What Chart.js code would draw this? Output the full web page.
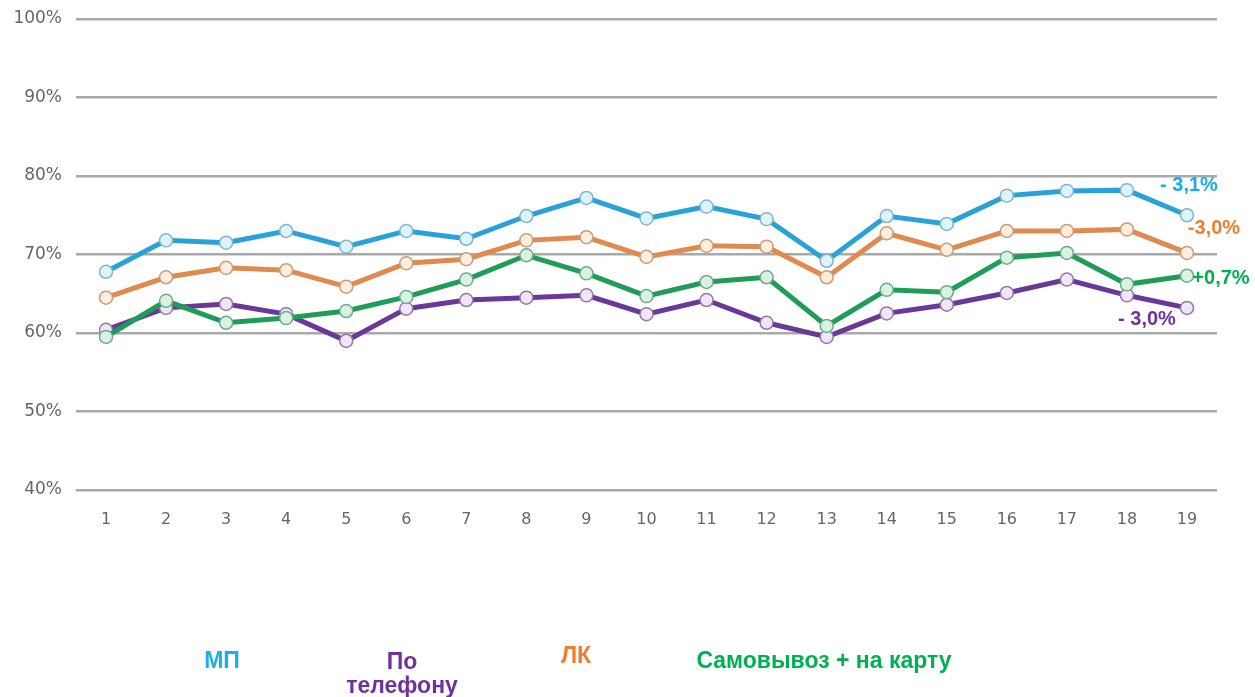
<!DOCTYPE html>
<html>
<head>
<meta charset="utf-8">
<script src="https://cdn.jsdelivr.net/npm/chart.js@4.4.1/dist/chart.umd.min.js"></script>
<style>
  html, body { margin: 0; padding: 0; background: #ffffff; }
  #wrap { position: relative; width: 1255px; height: 697px; overflow: hidden; }
  #wrap canvas { position: absolute; left: 0; top: 0; }
  .leg { position: absolute; font: bold 23px 'Liberation Sans', Arial, sans-serif; transform: translate(-50%, -50%); white-space: nowrap; text-align: center; line-height: 24px; }
</style>
</head>
<body>
<div id="wrap">
  <canvas id="chart" width="1255" height="697"></canvas>
  <div class="leg" style="left:222px; top:660px; color:#1cb0ea;">МП</div>
  <div class="leg" style="left:402px; top:673px; color:#7030a0;">По<br>телефону</div>
  <div class="leg" style="left:576px; top:655px; color:#ed7d31;">ЛК</div>
  <div class="leg" style="left:824px; top:660px; color:#00b050;">Самовывоз + на карту</div>
</div>
<script>
  const categories = ['1', '2', '3', '4', '5', '6', '7', '8', '9', '10', '11', '12', '13', '14', '15', '16', '17', '18', '19'];

  const mpValues = [67.8, 71.8, 71.5, 73.0, 71.0, 73.0, 72.0, 74.9, 77.2, 74.6, 76.1, 74.5, 69.2, 74.9, 73.9, 77.5, 78.1, 78.2, 75.0];
  const lkValues = [64.5, 67.1, 68.3, 68.0, 65.9, 68.9, 69.4, 71.8, 72.2, 69.7, 71.1, 71.0, 67.1, 72.7, 70.6, 73.0, 73.0, 73.2, 70.2];
  const pickupValues = [59.5, 64.1, 61.3, 61.9, 62.8, 64.6, 66.8, 69.9, 67.6, 64.7, 66.5, 67.1, 60.9, 65.5, 65.2, 69.6, 70.2, 66.2, 67.3];
  const phoneValues = [60.4, 63.2, 63.7, 62.4, 59.0, 63.1, 64.2, 64.5, 64.8, 62.4, 64.2, 61.3, 59.5, 62.5, 63.6, 65.1, 66.8, 64.8, 63.2];

  const seriesNames = ['МП', 'По телефону', 'ЛК', 'Самовывоз + на карту'];
  const changeLabels = ['- 3,1%', '- 3,0%', '-3,0%', '+0,7%'];

  const yTicks = [40, 50, 60, 70, 80, 90, 100];

  // look of each series: line, point fill, point border, end-label colour, label offset from last point
  const STYLES = [
    { line: '#2aa2d8', fill: '#dcf5fc', border: '#86b4c8', text: '#12aeea', dx: 2, dy: -30 },
    { line: '#6a3897', fill: '#f0e6f8', border: '#8f7aa6', text: '#7030a0', dx: -40, dy: 12 },
    { line: '#e08a4f', fill: '#fdeedd', border: '#c89c7e', text: '#ed7d31', dx: 27, dy: -24 },
    { line: '#1f9c57', fill: '#d9f3e3', border: '#72a98b', text: '#00b050', dx: 34, dy: 3 }
  ];

  const endLabelPlugin = {
    id: 'endLabels',
    afterDatasetsDraw: function (chart) {
      const ctx = chart.ctx;
      chart.data.datasets.forEach(function (ds, i) {
        const meta = chart.getDatasetMeta(i);
        const last = meta.data[meta.data.length - 1];
        if (!last) return;
        const st = STYLES[i];
        ctx.save();
        ctx.font = 'bold 20px "Liberation Sans", Arial, sans-serif';
        ctx.fillStyle = st.text;
        ctx.textAlign = 'center';
        ctx.textBaseline = 'middle';
        ctx.fillText(changeLabels[i], last.x + st.dx, last.y + st.dy);
        ctx.restore();
      });
    }
  };

  function makeDataset(name, values, st) {
    return {
      label: name,
      data: values,
      borderColor: st.line,
      borderWidth: 5,
      pointRadius: 6.5,
      pointBorderWidth: 1.5,
      pointBackgroundColor: st.fill,
      pointBorderColor: st.border,
      tension: 0
    };
  }

  // draw order: purple under green, matching the picture
  const datasets = [
    makeDataset(seriesNames[0], mpValues, STYLES[0]),
    makeDataset(seriesNames[1], phoneValues, STYLES[1]),
    makeDataset(seriesNames[2], lkValues, STYLES[2]),
    makeDataset(seriesNames[3], pickupValues, STYLES[3])
  ];
  datasets[0].order = 1;
  datasets[2].order = 2;
  datasets[3].order = 3;
  datasets[1].order = 4;

  new Chart(document.getElementById('chart').getContext('2d'), {
    type: 'line',
    data: { labels: categories, datasets: datasets },
    plugins: [endLabelPlugin],
    options: {
      responsive: false,
      animation: false,
      layout: { padding: { left: 0, right: 38, top: 19, bottom: 147 } },
      plugins: { legend: { display: false }, tooltip: { enabled: false } },
      scales: {
        x: {
          offset: true,
          grid: { display: false, drawTicks: false },
          border: { display: false },
          ticks: { color: '#666666', padding: 20, font: { family: 'DejaVu Sans', size: 16 } },
          afterFit: function (s) { s.height = 60; }
        },
        y: {
          min: 40,
          max: 100,
          afterBuildTicks: function (s) { s.ticks = yTicks.map(function (v) { return { value: v }; }); },
          grid: { color: '#a9a9a9', lineWidth: 2.5, drawTicks: false },
          border: { display: false },
          ticks: {
            color: '#666666',
            padding: 14,
            font: { family: 'DejaVu Sans', size: 17 },
            callback: function (v) { return v + '%'; }
          },
          afterFit: function (s) { s.width = 76; s.paddingTop = 0; s.paddingBottom = 0; }
        }
      }
    }
  });
</script>
</body>
</html>
